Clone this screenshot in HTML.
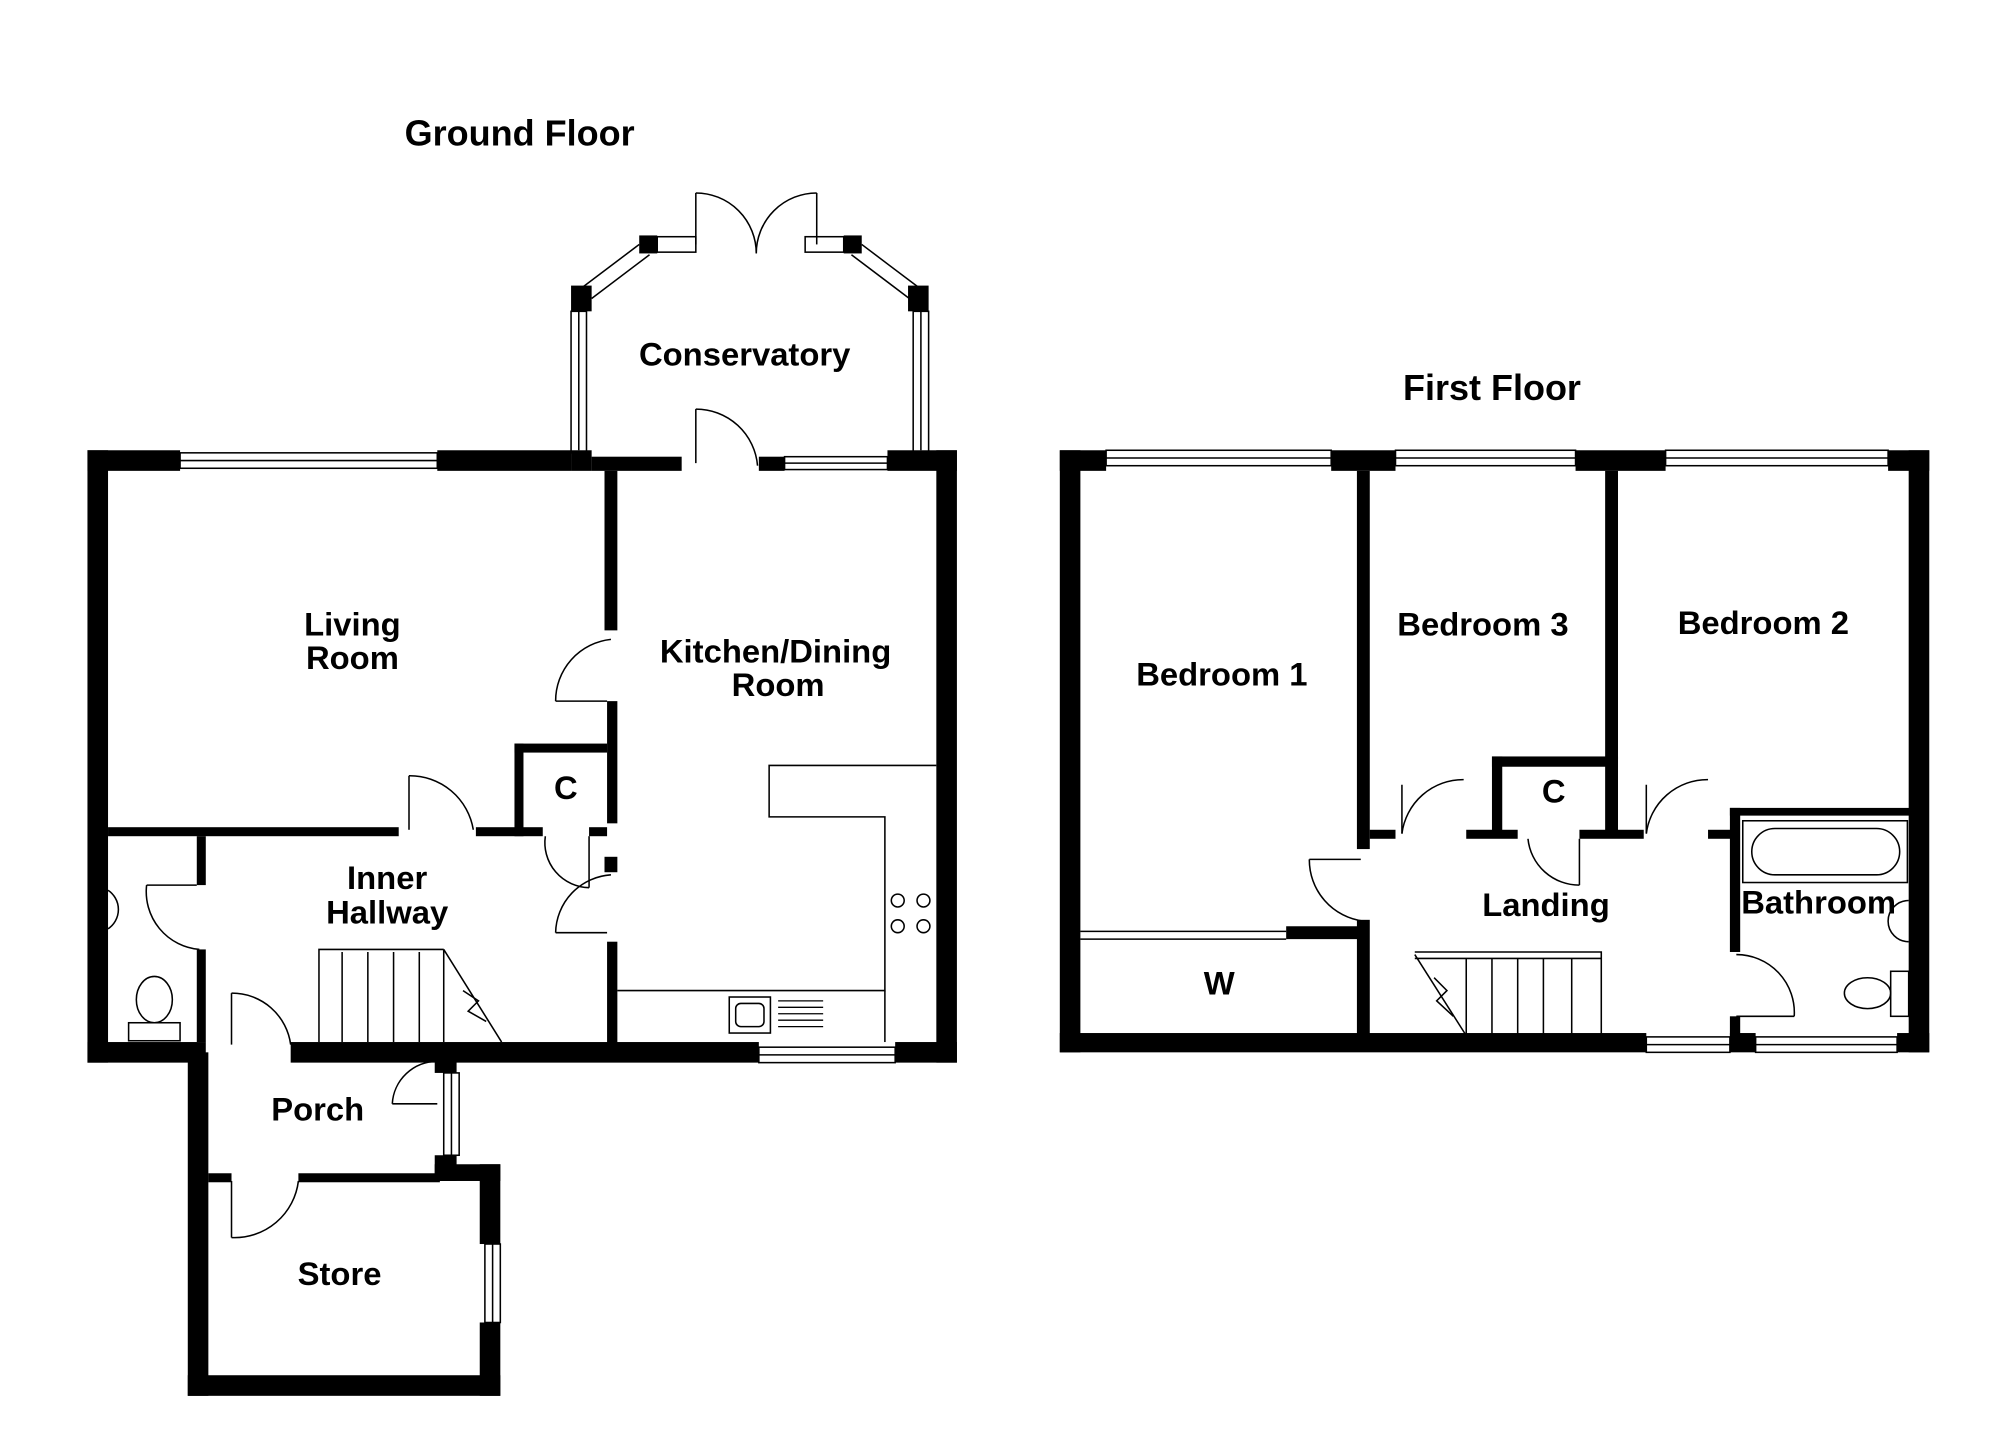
<!DOCTYPE html>
<html><head><meta charset="utf-8"><style>
html,body{margin:0;padding:0;background:#fff;width:2000px;height:1455px;overflow:hidden}
svg{display:block}
text{font-family:"Liberation Sans",Arial,sans-serif;font-weight:bold;font-size:25.5px;fill:#000;text-anchor:middle}
text.t{font-size:28px}
</style></head><body>
<svg width="2000" height="1455" viewBox="0 0 1555 1131" preserveAspectRatio="none" xmlns="http://www.w3.org/2000/svg">
<g fill="#000">
<rect x="68" y="350" width="72" height="16"/>
<rect x="340" y="350" width="104" height="16"/>
<rect x="444" y="350" width="16" height="16"/>
<rect x="460" y="355" width="70" height="11"/>
<rect x="590" y="355" width="20" height="11"/>
<rect x="690" y="350" width="54" height="16"/>
<rect x="68" y="350" width="16" height="476"/>
<rect x="728" y="350" width="16" height="476"/>
<rect x="68" y="810" width="92" height="16"/>
<rect x="226" y="810" width="364" height="16"/>
<rect x="696" y="810" width="48" height="16"/>
<rect x="146" y="818" width="16" height="267"/>
<rect x="146" y="1069" width="243" height="16"/>
<rect x="373" y="905" width="16" height="62"/>
<rect x="373" y="1028" width="16" height="57"/>
<rect x="338" y="818" width="17" height="16"/>
<rect x="338" y="898" width="17" height="20"/>
<rect x="338" y="905" width="51" height="13"/>
<rect x="162" y="912" width="18" height="7"/>
<rect x="232" y="912" width="110" height="7"/>
<rect x="470" y="366" width="10" height="124"/>
<rect x="472" y="545" width="8" height="95"/>
<rect x="470" y="666" width="10" height="12"/>
<rect x="472" y="732" width="8" height="80"/>
<rect x="84" y="643" width="226" height="7"/>
<rect x="370" y="643" width="52" height="7"/>
<rect x="400" y="578" width="72" height="7"/>
<rect x="400" y="578" width="7" height="72"/>
<rect x="458" y="643" width="14" height="7"/>
<rect x="153" y="650" width="7" height="38"/>
<rect x="153" y="738" width="7" height="72"/>
<rect x="444" y="222" width="16" height="20"/>
<rect x="706" y="222" width="16" height="20"/>
<rect x="497" y="183" width="14" height="14"/>
<rect x="656" y="183" width="14" height="14"/>
<rect x="824" y="350" width="36" height="16"/>
<rect x="1035" y="350" width="50" height="16"/>
<rect x="1225" y="350" width="70" height="16"/>
<rect x="1468" y="350" width="32" height="16"/>
<rect x="824" y="350" width="16" height="468"/>
<rect x="1484" y="350" width="16" height="468"/>
<rect x="824" y="803" width="456" height="15"/>
<rect x="1345" y="803" width="20" height="15"/>
<rect x="1475" y="803" width="25" height="15"/>
<rect x="1055" y="366" width="10" height="294"/>
<rect x="1055" y="715" width="10" height="90"/>
<rect x="1000" y="720" width="60" height="10"/>
<rect x="1248" y="366" width="10" height="224"/>
<rect x="1160" y="588" width="98" height="8"/>
<rect x="1160" y="588" width="8" height="62"/>
<rect x="1248" y="588" width="10" height="62"/>
<rect x="1065" y="645" width="20" height="7"/>
<rect x="1140" y="645" width="40" height="7"/>
<rect x="1228" y="645" width="50" height="7"/>
<rect x="1328" y="645" width="22" height="7"/>
<rect x="1345" y="628" width="8" height="112"/>
<rect x="1345" y="628" width="140" height="6"/>
<rect x="1345" y="790" width="8" height="15"/>
</g>
<g fill="none" stroke="#000" stroke-width="1.2">
<rect x="140" y="352" width="200" height="12"/><line x1="140" y1="358" x2="340" y2="358"/>
<rect x="610" y="355" width="80" height="10"/><line x1="610" y1="360" x2="690" y2="360"/>
<rect x="590" y="814" width="106" height="12"/><line x1="590" y1="820" x2="696" y2="820"/>
<rect x="345" y="834" width="12" height="64"/><line x1="351" y1="834" x2="351" y2="898"/>
<rect x="377" y="967" width="12" height="61"/><line x1="383" y1="967" x2="383" y2="1028"/>
<rect x="860" y="350" width="175" height="12"/><line x1="860" y1="356" x2="1035" y2="356"/>
<rect x="1085" y="350" width="140" height="12"/><line x1="1085" y1="356" x2="1225" y2="356"/>
<rect x="1295" y="350" width="173" height="12"/><line x1="1295" y1="356" x2="1468" y2="356"/>
<rect x="1280" y="806" width="65" height="12"/><line x1="1280" y1="812" x2="1345" y2="812"/>
<rect x="1365" y="806" width="110" height="12"/><line x1="1365" y1="812" x2="1475" y2="812"/>
<rect x="444" y="242" width="12" height="110"/><line x1="450" y1="242" x2="450" y2="350"/>
<rect x="710" y="242" width="12" height="110"/><line x1="716" y1="242" x2="716" y2="350"/>
<polyline points="452,224 497,190"/><polyline points="460,232 505,198"/>
<polyline points="715,224 670,190"/><polyline points="707,232 662,198"/>
<rect x="511" y="184" width="30" height="12"/>
<rect x="626" y="184" width="30" height="12"/>
<line x1="541" y1="150" x2="541" y2="190"/><path d="M541,150 A47,47 0 0 1 588,197"/>
<line x1="635" y1="150" x2="635" y2="190"/><path d="M635,150 A47,47 0 0 0 588,197"/>
<line x1="541" y1="318" x2="541" y2="360"/><path d="M541,318 A48,48 0 0 1 589,362"/>
<line x1="432" y1="545" x2="472" y2="545"/><path d="M432,545 A48,48 0 0 1 475,497"/>
<line x1="432" y1="725" x2="472" y2="725"/><path d="M432,725 A46,46 0 0 1 475,680"/>
<line x1="318" y1="603" x2="318" y2="645"/><path d="M318,603 A50,50 0 0 1 368,645"/>
<line x1="458" y1="650" x2="458" y2="690"/><path d="M458,690 A35,35 0 0 1 424,650"/>
<line x1="114" y1="688" x2="153" y2="688"/><path d="M114,688 A45,45 0 0 0 155,738"/>
<line x1="180" y1="772" x2="180" y2="812"/><path d="M180,772 A46,46 0 0 1 226,812"/>
<line x1="180" y1="918" x2="180" y2="962"/><path d="M180,962 A50,50 0 0 0 232,918"/>
<line x1="305" y1="858" x2="340" y2="858"/><path d="M305,858 A35,35 0 0 1 340,825"/>
<line x1="1018" y1="668" x2="1058" y2="668"/><path d="M1018,668 A48,48 0 0 0 1060,716"/>
<line x1="1090" y1="610" x2="1090" y2="648"/><path d="M1090,648 A48,48 0 0 1 1138,606"/>
<line x1="1228" y1="652" x2="1228" y2="688"/><path d="M1228,688 A40,40 0 0 1 1188,652"/>
<line x1="1280" y1="610" x2="1280" y2="648"/><path d="M1280,648 A48,48 0 0 1 1328,606"/>
<line x1="1350" y1="790" x2="1395" y2="790"/><path d="M1395,790 A45,45 0 0 0 1350,742"/>
<polyline points="728,595 598,595 598,635 688,635 688,770 480,770"/>
<line x1="688" y1="770" x2="688" y2="810"/>
<circle cx="698" cy="700" r="5"/><circle cx="718" cy="700" r="5"/><circle cx="698" cy="720" r="5"/><circle cx="718" cy="720" r="5"/>
<rect x="567" y="775" width="32" height="28"/><rect x="572" y="780" width="22" height="18" rx="4"/>
<g stroke-width="1"><line x1="605" y1="778" x2="640" y2="778"/><line x1="605" y1="783" x2="640" y2="783"/><line x1="605" y1="788" x2="640" y2="788"/><line x1="605" y1="793" x2="640" y2="793"/><line x1="605" y1="798" x2="640" y2="798"/></g>
<polyline points="248,810 248,738 345,738"/>
<line x1="266" y1="740" x2="266" y2="810"/><line x1="286" y1="740" x2="286" y2="810"/><line x1="306" y1="740" x2="306" y2="810"/><line x1="326" y1="740" x2="326" y2="810"/><line x1="345" y1="738" x2="345" y2="810"/>
<line x1="345" y1="738" x2="390" y2="810"/><polyline points="360,770 372,778 364,786 378,794"/>
<ellipse cx="120" cy="777" rx="14" ry="18"/><rect x="100" y="795" width="40" height="14"/>
<path d="M84,692 A18,18 0 0 1 84,722"/>
<line x1="840" y1="724" x2="1000" y2="724"/><line x1="840" y1="730" x2="1000" y2="730"/>
<polyline points="1100,740 1245,740 1245,805"/>
<line x1="1100" y1="745" x2="1245" y2="745"/>
<line x1="1140" y1="745" x2="1140" y2="805"/><line x1="1160" y1="745" x2="1160" y2="805"/><line x1="1180" y1="745" x2="1180" y2="805"/><line x1="1200" y1="745" x2="1200" y2="805"/><line x1="1222" y1="745" x2="1222" y2="805"/>
<line x1="1100" y1="742" x2="1140" y2="805"/><polyline points="1115,760 1125,770 1117,778 1130,790"/>
<rect x="1355" y="638" width="128" height="48"/><rect x="1362" y="644" width="115" height="36" rx="18"/>
<ellipse cx="1452" cy="772" rx="18" ry="12"/><rect x="1470" y="755" width="14" height="35"/>
<path d="M1484,700 A16,16 0 0 0 1484,732"/>
</g>
<text class="t" x="404" y="113">Ground Floor</text>
<text class="t" x="1160" y="311">First Floor</text>
<text x="579" y="284">Conservatory</text>
<text x="274" y="494">Living</text><text x="274" y="520">Room</text>
<text x="603" y="515">Kitchen/Dining</text><text x="605" y="541">Room</text>
<text x="440" y="621">C</text>
<text x="301" y="691">Inner</text><text x="301" y="718">Hallway</text>
<text x="247" y="871">Porch</text>
<text x="264" y="999">Store</text>
<text x="950" y="533">Bedroom 1</text>
<text x="1153" y="494">Bedroom 3</text>
<text x="1371" y="493">Bedroom 2</text>
<text x="1208" y="624">C</text>
<text x="1202" y="712">Landing</text>
<text x="1414" y="710">Bathroom</text>
<text x="948" y="773">W</text>
</svg>
</body></html>
